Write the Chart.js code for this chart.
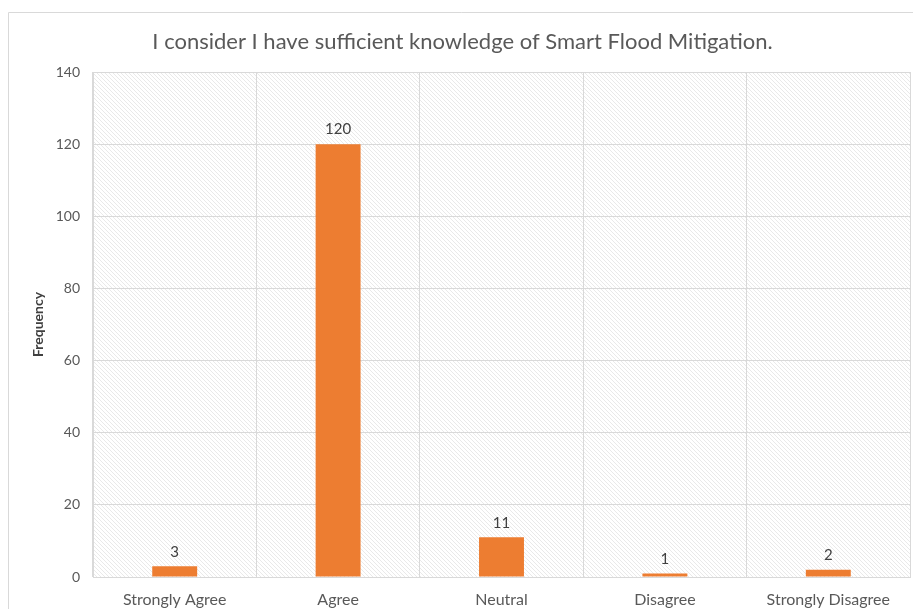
<!DOCTYPE html>
<html>
<head>
<meta charset="utf-8">
<script src="https://cdn.jsdelivr.net/npm/chart.js@4.4.1/dist/chart.umd.min.js"></script>
<style>
  html, body { margin: 0; padding: 0; background: #ffffff; }
  #wrap { width: 913px; height: 609px; position: relative; }
</style>
</head>
<body>
<div id="wrap"><canvas id="chart" width="913" height="609"></canvas></div>
<script>
// Survey responses
const categories = ['Strongly Agree', 'Agree', 'Neutral', 'Disagree', 'Strongly Disagree'];
const frequencies = [3, 120, 11, 1, 2];
const yTicks = [0, 20, 40, 60, 80, 100, 120, 140];

const textColor = '#595959';
const gridColor = '#d9d9d9';
const barColor = '#ED7D31';
const fontFamily = 'Lato, "Open Sans", sans-serif';

// Light diagonal hatch used behind the plot
function makeHatch() {
  const c = document.createElement('canvas');
  c.width = 4; c.height = 4;
  const g = c.getContext('2d');
  g.fillStyle = '#ffffff';
  g.fillRect(0, 0, 4, 4);
  g.strokeStyle = '#e9e9e9';
  g.lineWidth = 1;
  g.beginPath();
  g.moveTo(-1, -1); g.lineTo(5, 5);
  g.moveTo(-1, 3); g.lineTo(1, 5);
  g.moveTo(3, -1); g.lineTo(5, 1);
  g.stroke();
  return g.createPattern(c, 'repeat');
}

const backdrop = {
  id: 'backdrop',
  beforeDraw(chart) {
    const { ctx, chartArea: a } = chart;
    ctx.save();
    // outer frame of the chart
    ctx.strokeStyle = '#d9d9d9';
    ctx.lineWidth = 1;
    ctx.beginPath();
    ctx.moveTo(8.5, chart.height + 2);
    ctx.lineTo(8.5, 12.5);
    ctx.lineTo(chart.width + 2, 12.5);
    ctx.stroke();
    // hatched plot area
    ctx.fillStyle = makeHatch();
    ctx.fillRect(a.left, a.top, a.right - a.left, a.bottom - a.top);
    ctx.restore();
  }
};

const valueLabels = {
  id: 'valueLabels',
  afterDatasetsDraw(chart) {
    const { ctx } = chart;
    const meta = chart.getDatasetMeta(0);
    ctx.save();
    ctx.font = '15px ' + fontFamily;
    ctx.fillStyle = '#404040';
    ctx.textAlign = 'center';
    ctx.textBaseline = 'bottom';
    meta.data.forEach((bar, i) => {
      ctx.fillText(String(frequencies[i]), bar.x, bar.y - 7);
    });
    ctx.restore();
  }
};

new Chart(document.getElementById('chart'), {
  type: 'bar',
  data: {
    labels: categories,
    datasets: [{
      data: frequencies,
      backgroundColor: barColor,
      borderWidth: 0,
      categoryPercentage: 1.0,
      barPercentage: 0.275
    }]
  },
  options: {
    responsive: false,
    animation: false,
    layout: { padding: { left: 15, right: 3, top: 0, bottom: 0 } },
    plugins: {
      legend: { display: false },
      tooltip: { enabled: false },
      title: {
        display: true,
        text: 'I consider I have sufficient knowledge of Smart Flood Mitigation.',
        color: textColor,
        font: { family: fontFamily, size: 22, weight: 'normal', lineHeight: 1.2 },
        padding: { top: 29, bottom: 16.6 }
      }
    },
    scales: {
      x: {
        grid: { color: gridColor, lineWidth: 1, drawTicks: false, offset: true },
        border: { color: gridColor },
        ticks: {
          color: textColor,
          font: { family: fontFamily, size: 16 },
          padding: 13,
          maxRotation: 0
        },
        afterFit(scale) { scale.height = 32; }
      },
      y: {
        min: 0,
        max: 140,
        afterBuildTicks(scale) { scale.ticks = yTicks.map(v => ({ value: v })); },
        grid: { color: gridColor, lineWidth: 1, drawTicks: false },
        border: { color: gridColor },
        ticks: {
          color: textColor,
          font: { family: fontFamily, size: 14 },
          padding: 13
        },
        title: {
          display: true,
          text: 'Frequency',
          color: '#404040',
          font: { family: fontFamily, size: 14, weight: 'bold' },
          padding: { top: 15, bottom: 0 }
        },
        afterFit(scale) { scale.width = 78; }
      }
    }
  },
  plugins: [backdrop, valueLabels]
});
</script>
</body>
</html>
